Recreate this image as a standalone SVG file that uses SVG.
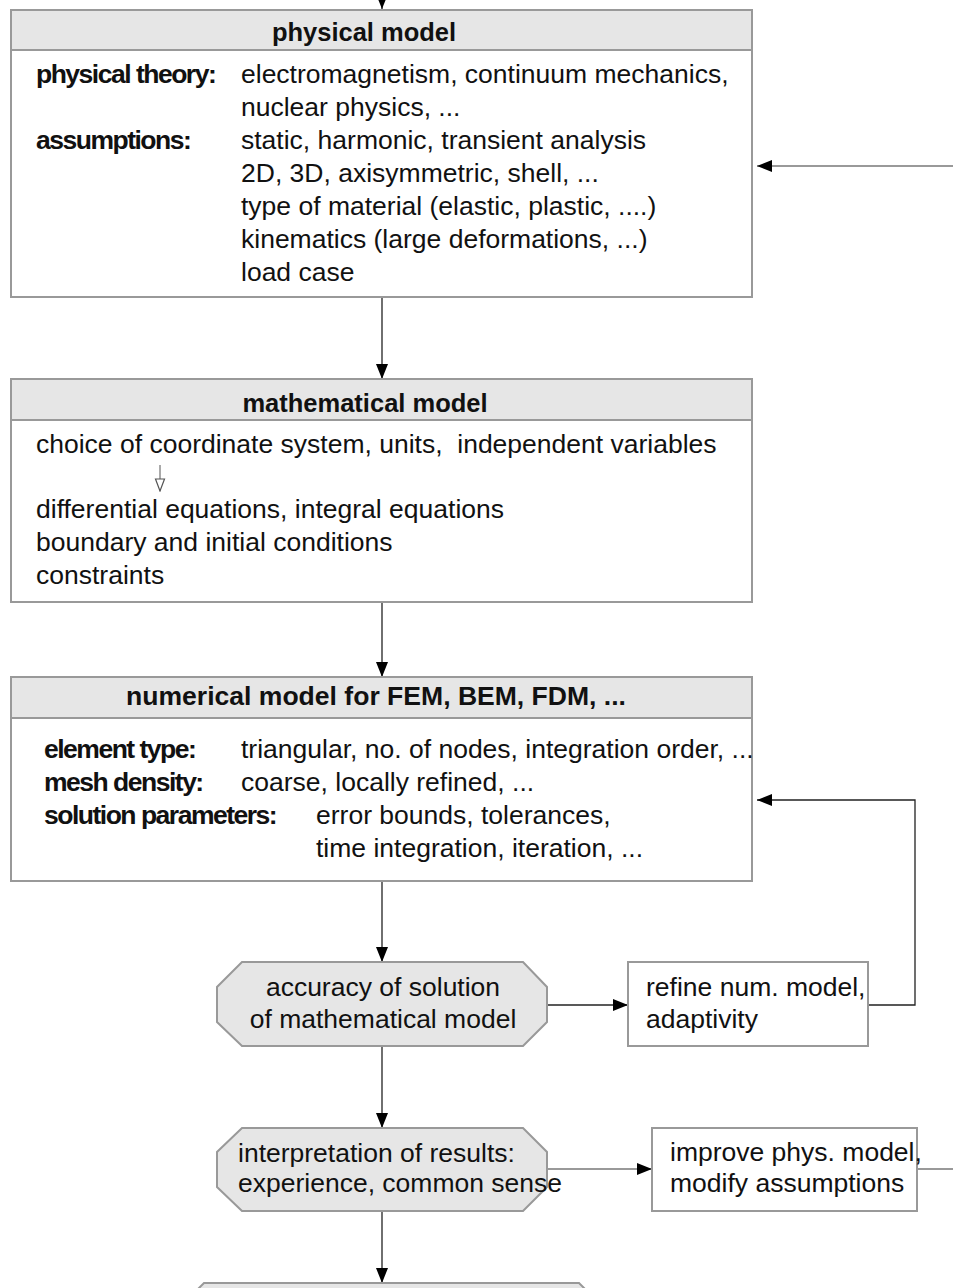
<svg xmlns="http://www.w3.org/2000/svg" width="953" height="1288" viewBox="0 0 953 1288">
<style>
text{font-family:"Liberation Sans",Arial,sans-serif;font-size:26.5px;fill:#111;white-space:pre}
.h{font-weight:bold;text-anchor:middle;font-size:25.5px}
.b{font-weight:bold;letter-spacing:-1.5px}
.box{fill:#fff;stroke:#999;stroke-width:2}
.hdr{fill:#e6e6e6;stroke:#999;stroke-width:2}
.oct{fill:#e6e6e6;stroke:#999;stroke-width:2}
.c{fill:none;stroke:#222;stroke-width:1.3}
.cg{fill:none;stroke:#999;stroke-width:2}
.m{text-anchor:middle}
</style>
<defs>
<marker id="ah" markerUnits="userSpaceOnUse" markerWidth="16" markerHeight="12" refX="15" refY="6" orient="auto">
<path d="M0,0 L15,6 L0,12 z" fill="#000"/>
</marker>
<marker id="oh" markerUnits="userSpaceOnUse" markerWidth="12" markerHeight="14" refX="6" refY="13" orient="0">
<path d="M1.5,1 L10.5,1 L6,13 z" fill="#fff" stroke="#555" stroke-width="1.2"/>
</marker>
</defs>

<g id="connectors">
<path class="c" d="M382,0 V9" marker-end="url(#ah)"/>
<path class="c" d="M382,297 V379" marker-end="url(#ah)"/>
<path class="c" d="M382,602 V677" marker-end="url(#ah)"/>
<path class="c" d="M382,881 V962" marker-end="url(#ah)"/>
<path class="c" d="M382,1046 V1128" marker-end="url(#ah)"/>
<path class="c" d="M382,1211 V1283" marker-end="url(#ah)"/>
<path class="c" d="M547,1005 H628" marker-end="url(#ah)"/>
<path class="c" d="M868,1005 H915 V800 H757" marker-end="url(#ah)"/>
<path class="cg" d="M547,1169 H652" marker-end="url(#ah)"/>
<path class="cg" d="M917,1169 H953"/>
<path class="cg" d="M953,166 H757" marker-end="url(#ah)"/>
</g>

<g id="physical-model">
<rect class="box" x="11" y="10" width="741" height="287"/>
<rect class="hdr" x="11" y="10" width="741" height="40"/>
<text class="h" x="364" y="41">physical model</text>
<text class="b" x="36" y="83">physical theory:</text>
<text x="241" y="83">electromagnetism, continuum mechanics,</text>
<text x="241" y="116">nuclear physics, ...</text>
<text class="b" x="36" y="149">assumptions:</text>
<text x="241" y="149">static, harmonic, transient analysis</text>
<text x="241" y="182">2D, 3D, axisymmetric, shell, ...</text>
<text x="241" y="215">type of material (elastic, plastic, ....)</text>
<text x="241" y="248">kinematics (large deformations, ...)</text>
<text x="241" y="281">load case</text>
</g>

<g id="mathematical-model">
<rect class="box" x="11" y="379" width="741" height="223"/>
<rect class="hdr" x="11" y="379" width="741" height="41"/>
<text class="h" x="365" y="412">mathematical model</text>
<text x="36" y="453" xml:space="preserve">choice of coordinate system, units,  independent variables</text>
<path fill="none" stroke="#555" stroke-width="1" d="M160,465 V491" marker-end="url(#oh)"/>
<text x="36" y="518">differential equations, integral equations</text>
<text x="36" y="551">boundary and initial conditions</text>
<text x="36" y="584">constraints</text>
</g>

<g id="numerical-model">
<rect class="box" x="11" y="677" width="741" height="204"/>
<rect class="hdr" x="11" y="677" width="741" height="41"/>
<text class="h" x="376" y="705" textLength="500" lengthAdjust="spacingAndGlyphs">numerical model for FEM, BEM, FDM, ...</text>
<text class="b" x="44" y="758">element type:</text>
<text x="241" y="758">triangular, no. of nodes, integration order, ...</text>
<text class="b" x="44" y="791">mesh density:</text>
<text x="241" y="791">coarse, locally refined, ...</text>
<text class="b" x="44" y="824">solution parameters:</text>
<text x="316" y="824">error bounds, tolerances,</text>
<text x="316" y="857">time integration, iteration, ...</text>
</g>

<g id="accuracy">
<polygon class="oct" points="242,962 523,962 547,987 547,1022 523,1046 242,1046 217,1022 217,987"/>
<text class="m" x="383" y="996">accuracy of solution</text>
<text class="m" x="383" y="1028">of mathematical model</text>
</g>

<g id="refine">
<rect class="box" x="628" y="962" width="240" height="84"/>
<text x="646" y="996">refine num. model,</text>
<text x="646" y="1028">adaptivity</text>
</g>

<g id="interpretation">
<polygon class="oct" points="242,1128 523,1128 547,1152 547,1187 523,1211 242,1211 217,1187 217,1152"/>
<text x="238" y="1162">interpretation of results:</text>
<text x="238" y="1192">experience, common sense</text>
</g>

<g id="improve">
<rect class="box" x="652" y="1128" width="265" height="83"/>
<text x="670" y="1161">improve phys. model,</text>
<text x="670" y="1192">modify assumptions</text>
</g>

<g id="next-step">
<polygon class="oct" points="204,1283 579,1283 604,1308 179,1308"/>
</g>
</svg>
